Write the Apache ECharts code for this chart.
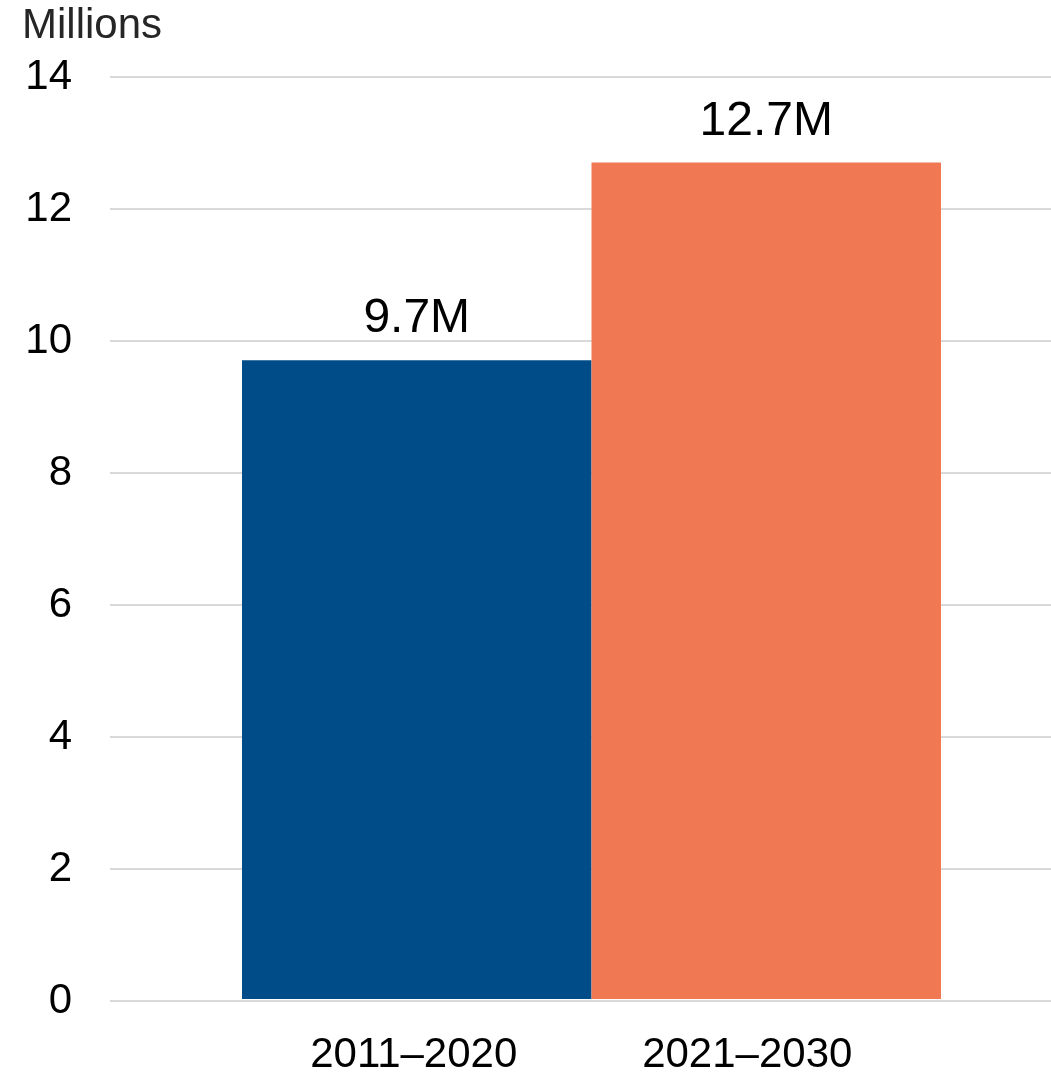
<!DOCTYPE html>
<html>
<head>
<meta charset="utf-8">
<title>Millions by decade</title>
<script src="https://cdn.jsdelivr.net/npm/echarts@6/dist/echarts.min.js"></script>
<style>
  html, body { margin: 0; padding: 0; background: #fff; }
  #chart { width: 1051px; height: 1076px; }
</style>
</head>
<body>
<div id="chart"></div>
<script>
// Decade totals, in millions
const categories = ['2011–2020', '2021–2030'];
const values = [9.7, 12.7];
const barColors = ['#004C89', '#F07852'];
const yTicks = { min: 0, max: 14, interval: 2 };

const FONT = '"Liberation Sans", Arial, sans-serif';
// right padding nudges each category label slightly left of its bar centre
const labelPads = [[0, 6, 0, 0], [0, 38, 0, 0]];

const chart = echarts.init(document.getElementById('chart'), null, { renderer: 'canvas' });

chart.setOption({
  animation: false,
  backgroundColor: '#ffffff',
  title: {
    text: 'Millions',
    left: 22,
    top: 5,
    padding: 0,
    textStyle: { fontFamily: FONT, fontSize: 42, fontWeight: 'normal', color: '#262626' }
  },
  grid: [
    // full-width grid carrying the value axis and its gridlines
    { left: 110, right: 0, top: 77, bottom: 75 },
    // narrower grid holding the bars and category labels
    { left: 242, right: 110, top: 77, bottom: 75 }
  ],
  xAxis: [
    { gridIndex: 0, type: 'value', min: 0, max: 1, show: false },
    {
      gridIndex: 1,
      type: 'category',
      data: categories.map((c, i) => ({ value: c, textStyle: { padding: labelPads[i] } })),
      axisLine: { show: false },
      axisTick: { show: false },
      axisLabel: { fontFamily: FONT, fontSize: 42, color: '#000', margin: 35 }
    }
  ],
  yAxis: [
    {
      gridIndex: 0,
      type: 'value',
      min: yTicks.min,
      max: yTicks.max,
      interval: yTicks.interval,
      axisLine: { show: false },
      axisTick: { show: false },
      axisLabel: { fontFamily: FONT, fontSize: 42, color: '#000', margin: 38 },
      splitLine: { lineStyle: { color: '#d9d9d9', width: 2 } }
    },
    {
      gridIndex: 1,
      type: 'value',
      min: yTicks.min,
      max: yTicks.max,
      interval: yTicks.interval,
      show: false,
      splitLine: { show: false }
    }
  ],
  series: [
    {
      type: 'bar',
      xAxisIndex: 1,
      yAxisIndex: 1,
      data: values,
      barWidth: '100%',
      itemStyle: { color: (p) => barColors[p.dataIndex] },
      label: {
        show: true,
        position: 'top',
        distance: 17,
        fontFamily: FONT,
        fontSize: 48,
        color: '#000',
        formatter: (p) => p.value + 'M'
      }
    }
  ]
});
</script>
</body>
</html>
